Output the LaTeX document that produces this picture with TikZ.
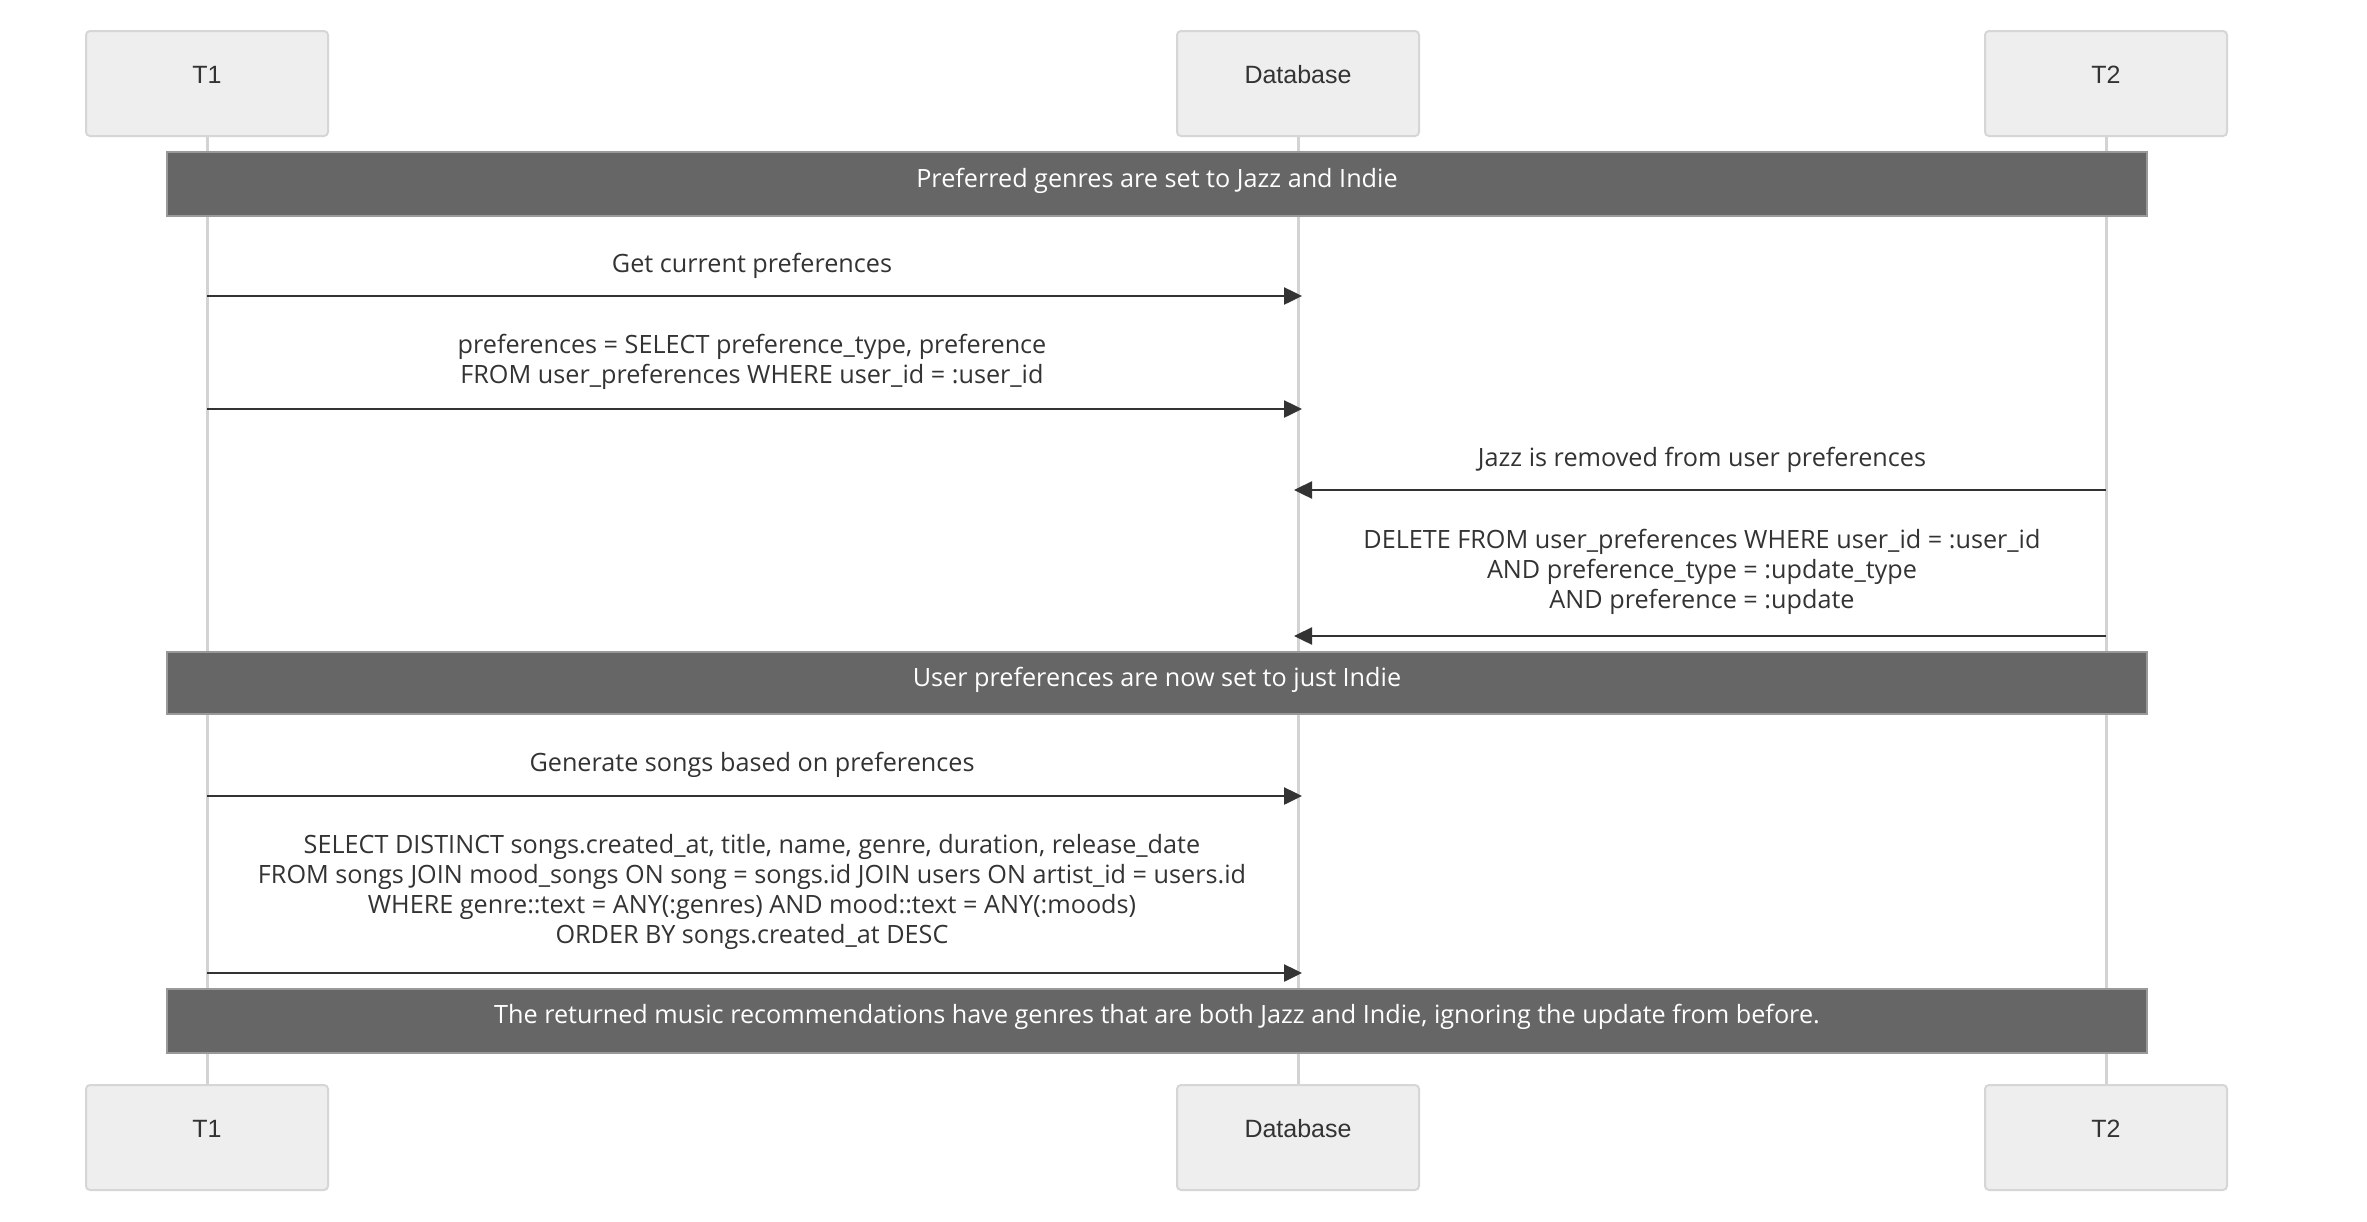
\documentclass[tikz,border=0pt]{standalone}
\usepackage{fontspec}
\setmainfont{Open Sans}
\newfontfamily\actorfont{Liberation Sans}
\usetikzlibrary{arrows.meta}
\definecolor{actorfill}{HTML}{EEEEEE}
\definecolor{actorline}{HTML}{D6D6D6}
\definecolor{lifeline}{HTML}{D3D3D3}
\definecolor{notefill}{HTML}{666666}
\definecolor{noteline}{HTML}{999999}
\definecolor{ink}{HTML}{333333}
\begin{document}
\begin{tikzpicture}[x=1pt,y=-1pt,
  actor/.style={draw=actorline,line width=2pt,fill=actorfill,rounded corners=4pt,
    minimum width=242pt,minimum height=105pt,inner sep=0pt},
  actortext/.style={font=\actorfont\fontsize{25}{30}\selectfont,text=ink,inner sep=0pt},
  life/.style={draw=lifeline,line width=3pt},
  note/.style={draw=noteline,line width=2pt,fill=notefill},
  notetext/.style={font=\fontsize{25.2}{30}\selectfont,text=white,inner sep=0pt},
  msg/.style={draw=ink,line width=2.5pt,-{Triangle[length=18pt,width=17pt]},shorten >=-4pt},
  msgtext/.style={font=\fontsize{25.2}{30}\selectfont,text=ink,align=center,inner sep=0pt}]
\useasboundingbox[fill=white] (0,0) rectangle (2367,1221);

% participants, top and bottom
\node[actor] (t1top) at (207,83.5) {};
\node[actor] (dbtop) at (1298,83.5) {};
\node[actor] (t2top) at (2106,83.5) {};
\node[actor] (t1bot) at (207,1137.5) {};
\node[actor] (dbbot) at (1298,1137.5) {};
\node[actor] (t2bot) at (2106,1137.5) {};
\node[actortext] (t1a) at ([yshift=9pt]t1top.center) {T1};
\node[actortext] (dba) at ([yshift=9pt]dbtop.center) {Database};
\node[actortext] (t2a) at ([yshift=9pt]t2top.center) {T2};
\node[actortext] (t1b) at ([yshift=9pt]t1bot.center) {T1};
\node[actortext] (dbb) at ([yshift=9pt]dbbot.center) {Database};
\node[actortext] (t2b) at ([yshift=9pt]t2bot.center) {T2};

% lifelines
\draw[life] (t1top.south) -- (t1bot.north);
\draw[life] (dbtop.south) -- (dbbot.north);
\draw[life] (t2top.south) -- (t2bot.north);

% notes spanning all participants
\draw[note] (167,152) rectangle (2147,216);
\node[notetext] (n1) at (1157,181) {Preferred genres are set to Jazz and Indie};
\draw[note] (167,652) rectangle (2147,714);
\node[notetext] (n2) at (1157,680) {User preferences are now set to just Indie};
\draw[note] (167,989) rectangle (2147,1053);
\node[notetext] (n3) at (1157,1017) {The returned music recommendations have genres that are both Jazz and Indie, ignoring the update from before.};

% messages
\node[msgtext] (l1) at (752,266) {Get current preferences};
\draw[msg] (t1top.south |- 0,296) -- (dbtop.south |- 0,296);

\node[msgtext] (l2) at (752,362) {preferences = SELECT preference\_type, preference\\FROM user\_preferences WHERE user\_id = :user\_id};
\draw[msg] (t1top.south |- 0,409) -- (dbtop.south |- 0,409);

\node[msgtext] (l3) at (1702,460) {Jazz is removed from user preferences};
\draw[msg] (t2top.south |- 0,490) -- (dbtop.south |- 0,490);

\node[msgtext] (l4) at (1702,572) {DELETE FROM user\_preferences WHERE user\_id = :user\_id\\AND preference\_type = :update\_type\\AND preference = :update};
\draw[msg] (t2top.south |- 0,636) -- (dbtop.south |- 0,636);

\node[msgtext] (l5) at (752,765) {Generate songs based on preferences};
\draw[msg] (t1top.south |- 0,796) -- (dbtop.south |- 0,796);

\node[msgtext] (l6) at (752,892) {SELECT DISTINCT songs.created\_at, title, name, genre, duration, release\_date\\FROM songs JOIN mood\_songs ON song = songs.id JOIN users ON artist\_id = users.id\\WHERE genre::text = ANY(:genres) AND mood::text = ANY(:moods)\\ORDER BY songs.created\_at DESC};
\draw[msg] (t1top.south |- 0,973) -- (dbtop.south |- 0,973);
\end{tikzpicture}
\end{document}
